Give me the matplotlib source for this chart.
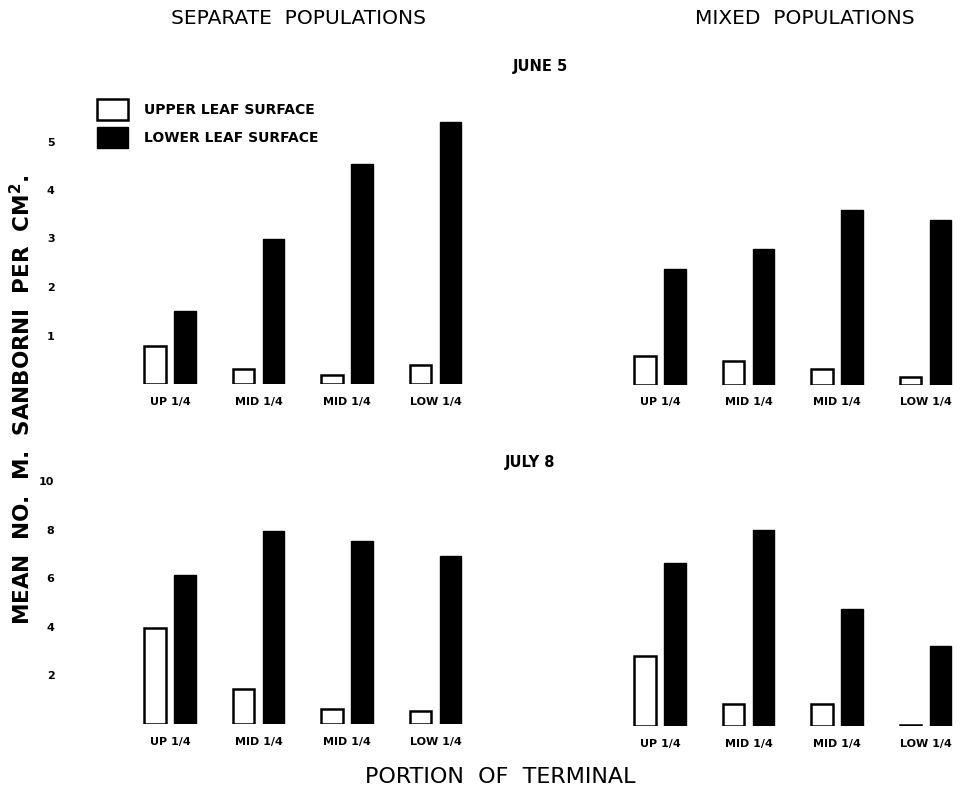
import matplotlib
matplotlib.use('Agg')
import matplotlib.pyplot as plt
import numpy as np

# portions of the terminal shoot
portions = ['UP 1/4', 'MID 1/4', 'MID 1/4', 'LOW 1/4']

# mean no. per cm2
sep_june_upper = [0.78, 0.31, 0.19, 0.39]
sep_june_lower = [1.5, 3.0, 4.54, 5.4]
mix_june_upper = [0.6, 0.5, 0.33, 0.17]
mix_june_lower = [2.4, 2.8, 3.6, 3.4]

sep_july_upper = [3.95, 1.44, 0.62, 0.53]
sep_july_lower = [6.13, 7.94, 7.53, 6.9]
mix_july_upper = [2.9, 0.9, 0.9, 0.05]
mix_july_lower = [6.7, 8.05, 4.8, 3.3]

june_ticks = [1, 2, 3, 4, 5]
july_ticks = [2, 4, 6, 8, 10]

W, H = 963, 794
fig = plt.figure(figsize=(W / 100, H / 100), dpi=100)

px_unit = 88.5  # pixels between groups


def make_ax(x0, x1, first_px, y_bottom, y_top, px_per_val):
    ax = fig.add_axes([x0 / W, 1 - y_bottom / H, (x1 - x0) / W, (y_bottom - y_top) / H])
    ax.set_xlim((x0 - first_px) / px_unit, (x1 - first_px) / px_unit)
    ax.set_ylim(0, (y_bottom - y_top) / px_per_val)
    for s in ax.spines.values():
        s.set_visible(False)
    ax.set_facecolor('none')
    return ax


def draw_bars(ax, upper, lower):
    x = np.arange(len(portions))
    ax.bar(x - 0.17, upper, width=0.24, color='white', edgecolor='black', linewidth=1.8,
           label='UPPER LEAF SURFACE')
    ax.bar(x + 0.17, lower, width=0.24, color='black', edgecolor='black', linewidth=1.0,
           label='LOWER LEAF SURFACE')
    ax.set_xticks(x)
    ax.set_xticklabels(portions, fontsize=8, fontweight='bold')
    ax.tick_params(axis='x', length=0, pad=9)


# June 5 row
ax1 = make_ax(60, 480, 170, 384, 100, 48.5)
draw_bars(ax1, sep_june_upper, sep_june_lower)
ax1.set_yticks(june_ticks)
ax1.set_yticklabels([str(t) for t in june_ticks], fontsize=8, fontweight='bold')
ax1.tick_params(axis='y', length=0, pad=4)

ax2 = make_ax(480, 963, 660, 385, 100, 48.5)
draw_bars(ax2, mix_june_upper, mix_june_lower)
ax2.set_yticks([])

# July 8 row
ax3 = make_ax(60, 480, 170, 724, 470, 24.3)
draw_bars(ax3, sep_july_upper, sep_july_lower)
ax3.set_yticks(july_ticks)
ax3.set_yticklabels([str(t) for t in july_ticks], fontsize=8, fontweight='bold')
ax3.tick_params(axis='y', length=0, pad=4)

ax4 = make_ax(480, 963, 660, 726, 470, 24.3)
draw_bars(ax4, mix_july_upper, mix_july_lower)
ax4.set_yticks([])

# legend
ax1.legend(loc='upper left', bbox_to_anchor=(97 / W, 1 - 99 / H), bbox_transform=fig.transFigure,
           frameon=False, borderpad=0, borderaxespad=0, handlelength=2.2, handleheight=1.9,
           handletextpad=1.2, labelspacing=0.55, prop={'size': 10, 'weight': 'bold'})

# headings
fig.text(298 / W, 1 - 18 / H, 'SEPARATE  POPULATIONS', ha='center', va='center', fontsize=14.5)
fig.text(805 / W, 1 - 18 / H, 'MIXED  POPULATIONS', ha='center', va='center', fontsize=14.5)
fig.text(540 / W, 1 - 67 / H, 'JUNE 5', ha='center', va='center', fontsize=10.5, fontweight='bold')
fig.text(530 / W, 1 - 462 / H, 'JULY 8', ha='center', va='center', fontsize=10.5, fontweight='bold')
fig.text(22 / W, 1 - 400 / H, 'MEAN  NO.  M.  SANBORNI  PER  CM$^\\mathbf{2}$.', rotation=90,
         ha='center', va='center', fontsize=15.5, fontweight='bold')
fig.text(500 / W, 1 - 777 / H, 'PORTION  OF  TERMINAL', ha='center', va='center', fontsize=16)

fig.savefig('out.png', dpi=100, facecolor='white')
